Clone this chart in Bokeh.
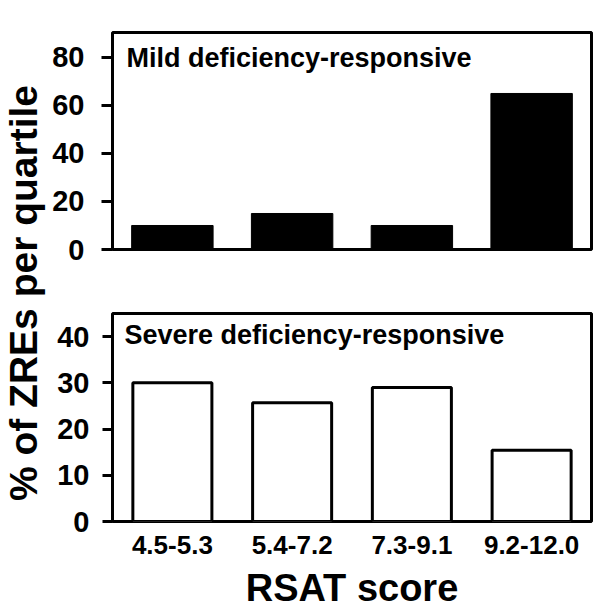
import math
from bokeh.plotting import figure
from bokeh.models import Range1d, FactorRange, FixedTicker, Label, ColumnDataSource
from bokeh.layouts import row, column
from bokeh.embed import file_html
from bokeh.resources import INLINE

# ---- data ----
categories = ["4.5-5.3", "5.4-7.2", "7.3-9.1", "9.2-12.0"]
mild_values = [10, 15, 10, 65]
severe_values = [30, 25.7, 29, 15.4]
mild_ticks = [0, 20, 40, 60, 80]
severe_ticks = [0, 10, 20, 30, 40]
mild_title = "Mild deficiency-responsive"
severe_title = "Severe deficiency-responsive"
y_title = "% of ZREs per quartile"
x_title = "RSAT score"

FONT = "Liberation Sans"


def style_panel(p, ticks, tick_out, standoff):
    p.grid.visible = False
    p.outline_line_color = "black"
    p.outline_line_width = 3
    p.outline_line_alpha = 1.0
    p.background_fill_color = "white"
    p.border_fill_color = "white"
    ax = p.yaxis[0]
    ax.ticker = FixedTicker(ticks=ticks)
    ax.axis_line_color = None
    ax.major_tick_line_color = "black"
    ax.major_tick_line_width = 3
    ax.major_tick_out = tick_out
    ax.major_tick_in = 0
    ax.minor_tick_line_color = None
    ax.major_label_text_font = FONT
    ax.major_label_text_font_style = "bold"
    ax.major_label_text_font_size = "29px"
    ax.major_label_text_color = "black"
    ax.major_label_standoff = standoff


# y-axis title strip
yl = figure(width=48, height=611, x_range=Range1d(0, 1), y_range=Range1d(0, 1),
            x_axis_type=None, y_axis_type=None, output_backend="svg",
            toolbar_location=None, min_border=0, outline_line_color=None)
yl.add_layout(Label(x=23, y=318.5, x_units="screen", y_units="screen", text=y_title,
                    angle=math.pi / 2, text_align="center", text_baseline="middle",
                    text_font=FONT, text_font_size="39px", text_font_style="bold",
                    text_color="black"))

# top panel
src1 = ColumnDataSource(dict(cat=categories, val=mild_values))
p1 = figure(width=552, height=280, x_range=FactorRange(*categories), y_range=Range1d(0, 90.4),
            output_backend="svg", toolbar_location=None,
            min_border_left=64, min_border_right=9, min_border_top=32, min_border_bottom=31)
p1.vbar(x="cat", top="val", width=0.68, source=src1, fill_color="black", line_color="black", line_width=1)
style_panel(p1, mild_ticks, 11, 17)
p1.xaxis.visible = False
p1.add_layout(Label(x=14, y=192, x_units="screen", y_units="screen", text=mild_title,
                    text_align="left", text_baseline="alphabetic", text_font=FONT,
                    text_font_size="27px", text_font_style="bold", text_color="black"))

# bottom panel
src2 = ColumnDataSource(dict(cat=categories, val=severe_values))
p2 = figure(width=552, height=331, x_range=FactorRange(*categories), y_range=Range1d(0, 45),
            output_backend="svg", toolbar_location=None,
            min_border_left=64, min_border_right=6, min_border_top=33, min_border_bottom=89)
p2.vbar(x="cat", top="val", width=0.66, source=src2, fill_color="white", line_color="black", line_width=3)
style_panel(p2, severe_ticks, 10, 13)
xa = p2.xaxis[0]
xa.axis_line_color = None
xa.major_tick_line_color = None
xa.major_tick_out = 0
xa.major_tick_in = 0
xa.minor_tick_line_color = None
xa.major_label_text_font = FONT
xa.major_label_text_font_style = "bold"
xa.major_label_text_font_size = "26px"
xa.major_label_text_color = "black"
xa.major_label_standoff = 14
xa.axis_label = x_title
xa.axis_label_text_font = FONT
xa.axis_label_text_font_style = "bold"
xa.axis_label_text_font_size = "38px"
xa.axis_label_text_color = "black"
xa.axis_label_standoff = 10
p2.add_layout(Label(x=12, y=186.5, x_units="screen", y_units="screen", text=severe_title,
                    text_align="left", text_baseline="alphabetic", text_font=FONT,
                    text_font_size="27px", text_font_style="bold", text_color="black"))

layout = row(yl, column(p1, p2))
open("out.html", "w").write(file_html(layout, INLINE))
